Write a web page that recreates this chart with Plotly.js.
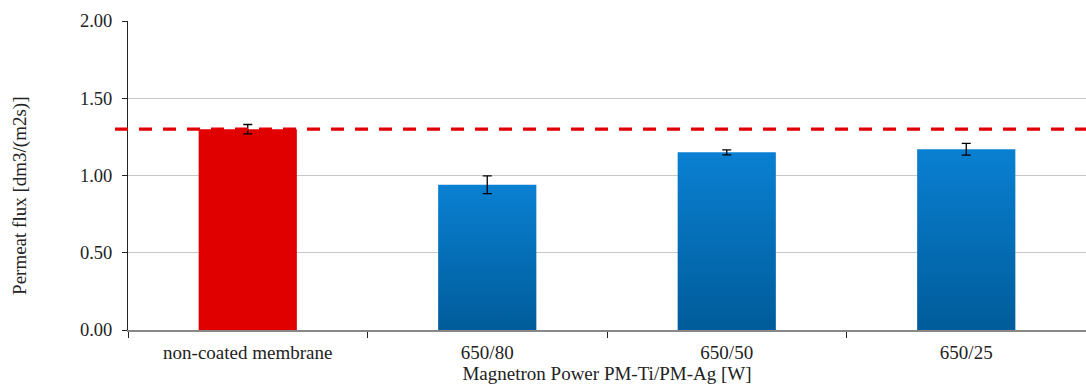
<!DOCTYPE html>
<html>
<head>
<meta charset="utf-8">
<script src="https://cdn.plot.ly/plotly-3.0.1.min.js"></script>
<style>
html,body{margin:0;padding:0;background:#fff;}
#chart{width:1086px;height:389px;}
</style>
</head>
<body>
<div id="chart"></div>
<script>
const categories = ["non-coated membrane", "650/80", "650/50", "650/25"];
const fluxValues = [1.30, 0.94, 1.15, 1.17];
const fluxErrors = [0.03, 0.057, 0.016, 0.038];
const referenceFlux = 1.30;
const yTickValues = [0, 0.5, 1.0, 1.5, 2.0];
const yTickLabels = ["0.00", "0.50", "1.00", "1.50", "2.00"];
const barColors = ["#e00000", "#0478c8", "#0478c8", "#0478c8"];
const xTitle = "Magnetron Power PM-Ti/PM-Ag [W]";
const yTitle = "Permeat flux [dm3/(m2s)]";

const fontFam = "'Palatino Linotype', 'Book Antiqua', Palatino, 'Liberation Serif', serif";
const fs = 19;

const trace = {
  type: "bar",
  x: categories,
  y: fluxValues,
  width: 0.41,
  marker: {color: barColors, line: {width: 0}},
  error_y: {type: "data", array: fluxErrors, visible: true, color: "#000", thickness: 1.3, width: 4.5},
  hoverinfo: "none"
};

const layout = {
  width: 1086, height: 389,
  margin: {l: 128, r: 0, t: 21, b: 59},
  paper_bgcolor: "#fff", plot_bgcolor: "#fff",
  showlegend: false,
  font: {family: fontFam, size: fs, color: "#222"},
  xaxis: {
    type: "category",
    tickson: "boundaries",
    ticks: "outside", ticklen: 6, tickcolor: "#222", tickwidth: 1,
    ticklabelstandoff: 5,
    showline: true, linecolor: "#888", linewidth: 1.5,
    showgrid: false, zeroline: false,
    tickfont: {family: fontFam, size: fs, color: "#222"},
    title: {text: xTitle, font: {family: fontFam, size: fs, color: "#222"}, standoff: 4},
    range: [-0.5, 3.5]
  },
  yaxis: {
    range: [0, 2.0],
    tickvals: yTickValues, ticktext: yTickLabels,
    ticks: "outside", ticklen: 5, tickcolor: "#222", tickwidth: 1,
    ticklabelstandoff: 6,
    showline: true, linecolor: "#222", linewidth: 1,
    showgrid: true, gridcolor: "#c8c8c8", gridwidth: 1.3,
    zeroline: false,
    tickfont: {family: fontFam, size: 18.5, color: "#222"}
  },
  annotations: [{
    text: yTitle, xref: "paper", yref: "paper",
    x: -0.1127, y: 0.434, xanchor: "center", yanchor: "middle",
    textangle: -90, showarrow: false,
    font: {family: fontFam, size: fs, color: "#222"}
  }],
  shapes: [{
    type: "line", xref: "paper", yref: "y",
    x0: -0.0136, x1: 1, y0: referenceFlux, y1: referenceFlux,
    line: {color: "#e00000", width: 3.2, dash: "13px,11px"},
    layer: "above"
  }]
};

Plotly.newPlot("chart", [trace], layout, {displayModeBar: false, staticPlot: true}).then(function(gd){
  const svg = gd.querySelector("svg.main-svg");
  const ns = "http://www.w3.org/2000/svg";
  let defs = svg.querySelector("defs");
  if (!defs) { defs = document.createElementNS(ns, "defs"); svg.insertBefore(defs, svg.firstChild); }
  const grad = document.createElementNS(ns, "linearGradient");
  grad.setAttribute("id", "blueGrad");
  grad.setAttribute("x1", "0"); grad.setAttribute("y1", "0");
  grad.setAttribute("x2", "0"); grad.setAttribute("y2", "1");
  [["0%", "#0a80d2"], ["100%", "#005c9a"]].forEach(function(s){
    const st = document.createElementNS(ns, "stop");
    st.setAttribute("offset", s[0]); st.setAttribute("stop-color", s[1]);
    grad.appendChild(st);
  });
  defs.appendChild(grad);
  const paths = gd.querySelectorAll(".barlayer .point path");
  paths.forEach(function(p, i){
    if (i > 0) p.style.fill = "url(#blueGrad)";
  });
});
</script>
</body>
</html>
